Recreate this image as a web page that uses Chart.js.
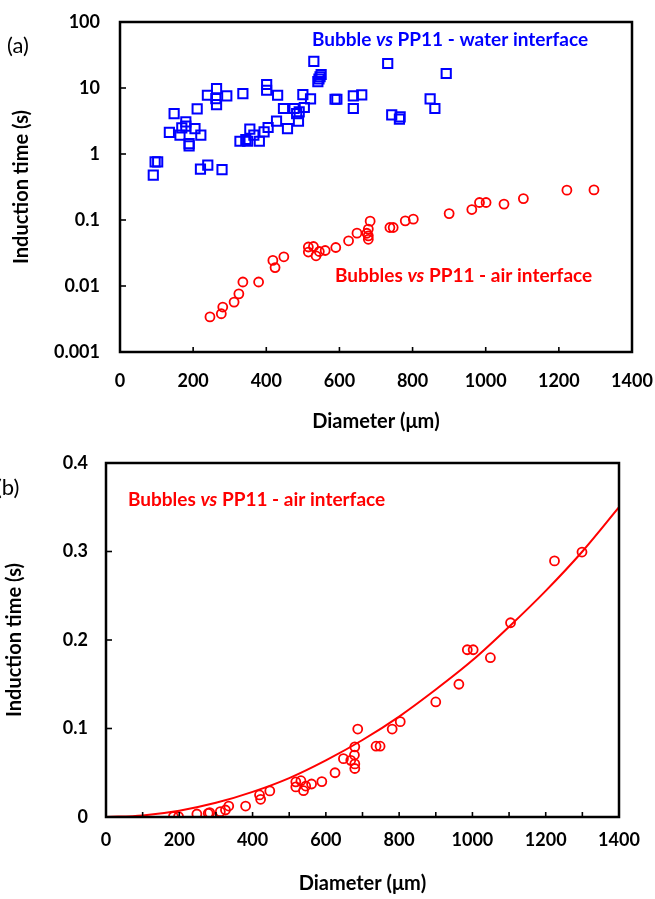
<!DOCTYPE html>
<html><head><meta charset="utf-8">
<script src="https://cdn.jsdelivr.net/npm/chart.js@4"></script>
<style>
body{margin:0;background:#fff;width:655px;height:899px;overflow:hidden;position:relative}
#c1{position:absolute;left:0;top:0}
#c2{position:absolute;left:0;top:440px}
</style></head><body>
<canvas id="c1" width="655" height="440"></canvas>
<canvas id="c2" width="655" height="459"></canvas>
<script>
// ---- data ----
const waterDiameter = [91,96,103,135,148,164,169,180,180,189,189,205,211,221,220,240,279,239,264,262,264,292,336,328,344,349,355,366,381,394,405,401,401,428,431,447,458,476,483,490,488,500,504,521,530,541,544,547,550,588,593,638,661,638,732,743,766,764,848,861,892];
const waterTime = [0.48,0.76,0.76,2.12,4.1,1.93,2.49,3.06,2.64,1.44,1.33,2.43,4.82,1.93,0.59,0.68,0.58,7.76,9.8,6.9,5.6,7.6,8.2,1.56,1.66,1.56,2.38,1.93,1.56,2.16,2.52,11.3,9.25,3.14,7.76,4.89,2.43,4.89,4.1,4.34,3.14,7.96,5.06,6.83,25.4,12.5,13.7,14.8,16.0,6.76,6.76,7.6,7.85,4.89,23.5,3.91,3.65,3.37,6.83,4.89,16.6];

const airDiameterA = [246,277,281,312,325,336,379,418,424,448,515,515,529,536,545,561,590,625,648,675,679,679,679,684,738,747,780,802,900,962,983,1001,1050,1103,1222,1296];
const airTimeA = [0.0034,0.0038,0.0048,0.0057,0.0076,0.0115,0.0115,0.0244,0.019,0.0277,0.039,0.0327,0.0397,0.0287,0.0333,0.0345,0.0383,0.0484,0.0632,0.063,0.0728,0.0575,0.051,0.096,0.077,0.077,0.097,0.103,0.125,0.144,0.184,0.184,0.174,0.211,0.283,0.286];

const airDiameterB = [184,198,248,279,283,312,326,335,381,419,422,447,518,518,532,539,545,561,589,625,648,668,678,679,679,679,687,737,748,781,803,900,963,986,1002,1049,1104,1224,1299];
const airTimeB = [0.0005,0.0005,0.0034,0.0042,0.0049,0.006,0.0079,0.0124,0.0124,0.0249,0.020,0.0295,0.0397,0.034,0.041,0.0297,0.035,0.0373,0.040,0.050,0.0659,0.064,0.070,0.0793,0.060,0.0548,0.0994,0.080,0.080,0.0994,0.1077,0.13,0.15,0.189,0.189,0.18,0.2195,0.2894,0.2994];

const fitDiameter = [0,100,200,300,400,500,600,700,800,900,1000,1100,1200,1300,1400];
const fitTime = [0,0.0018,0.0071,0.016,0.0284,0.044,0.064,0.087,0.1135,0.144,0.177,0.215,0.2555,0.30,0.350];

const xTicksA = [0,200,400,600,800,1000,1200,1400];
const yTicksA = [0.001,0.01,0.1,1,10,100];
const yLabelsA = ['0.001','0.01','0.1','1','10','100'];
const xTicksB = [0,200,400,600,800,1000,1200,1400];
const xMinorB = [0,100,200,300,400,500,600,700,800,900,1000,1100,1200,1300,1400];
const yTicksB = [0,0.1,0.2,0.3,0.4];
const yLabelsB = ['0','0.1','0.2','0.3','0.4'];

const BLUE = '#0000FF', RED = '#FF0000';
const FONT = 'Lato, "Open Sans", sans-serif';

const pts = (xs, ys) => xs.map((x, i) => ({x, y: ys[i]}));

const frame = {
  id: 'frame',
  afterDraw(chart, args, o) {
    const {ctx, chartArea: a, scales: {x, y}} = chart;
    ctx.save();
    ctx.strokeStyle = '#000';
    ctx.lineWidth = 1.6;
    o.xTicks.forEach(v => { const p = x.getPixelForValue(v); ctx.beginPath(); ctx.moveTo(p, a.bottom); ctx.lineTo(p, a.bottom - 5); ctx.stroke(); });
    o.yTicks.forEach(v => { const p = y.getPixelForValue(v); ctx.beginPath(); ctx.moveTo(a.left, p); ctx.lineTo(a.left + 6, p); ctx.stroke(); });
    ctx.lineWidth = 2.5;
    ctx.strokeRect(a.left, a.top, a.right - a.left, a.bottom - a.top);
    o.notes.forEach(n => {
      let cx = n.x;
      ctx.fillStyle = n.color;
      ctx.textBaseline = 'middle';
      n.parts.forEach(p => {
        ctx.font = p[1] + ' ' + n.size + 'px ' + FONT;
        ctx.fillText(p[0], cx, n.y);
        cx += ctx.measureText(p[0]).width;
      });
    });
    ctx.restore();
  }
};

function axisFont(sz){ return {family: FONT, size: sz, weight: 'bold'}; }
function fitX(h){ return s => { s.height = h; s.paddingLeft = 0; s.paddingRight = 0; }; }
function fitY(w){ return s => { s.width = w; s.paddingTop = 0; s.paddingBottom = 0; }; }

new Chart(document.getElementById('c1'), {
  type: 'scatter',
  data: {datasets: [
    {data: pts(waterDiameter, waterTime), pointStyle: 'rect', radius: 6.5, borderColor: BLUE, backgroundColor: 'rgba(0,0,0,0)', borderWidth: 2},
    {data: pts(airDiameterA, airTimeA), pointStyle: 'circle', radius: 4.5, borderColor: RED, backgroundColor: 'rgba(0,0,0,0)', borderWidth: 1.8}
  ]},
  options: {
    responsive: false, animation: false,
    layout: {padding: {top: 22, right: 23, left: 0, bottom: 0}},
    plugins: {legend: {display: false}, tooltip: {enabled: false},
      frame: {xTicks: xTicksA, yTicks: yTicksA, notes: [
        {x: 312, y: 40, size: 19, color: BLUE, parts: [['Bubble ', 'bold'], ['vs', 'italic bold'], [' PP11 - water interface', 'bold']]},
        {x: 335, y: 276, size: 19, color: RED, parts: [['Bubbles ', 'bold'], ['vs', 'italic bold'], [' PP11 - air interface', 'bold']]},
        {x: 7, y: 46, size: 22, color: '#000', parts: [['(a)', 'normal']]}
      ]}},
    scales: {
      x: {type: 'linear', min: 0, max: 1400,
        afterBuildTicks: s => { s.ticks = xTicksA.map(v => ({value: v})); },
        afterFit: fitX(88),
        grid: {display: false, drawTicks: false}, border: {display: false},
        ticks: {font: axisFont(18), color: '#000', padding: 18, maxRotation: 0, callback: v => String(v)},
        title: {display: true, text: 'Diameter (μm)', font: axisFont(20), color: '#000', padding: {top: 0, bottom: 6}}
      },
      y: {type: 'logarithmic', min: 0.001, max: 100,
        afterBuildTicks: s => { s.ticks = yTicksA.map(v => ({value: v})); },
        afterFit: fitY(120),
        grid: {display: false, drawTicks: false}, border: {display: false},
        ticks: {font: axisFont(18), color: '#000', padding: 20, callback: (v) => yLabelsA[yTicksA.indexOf(v)] ?? ''},
        title: {display: true, text: 'Induction time (s)', font: axisFont(20), color: '#000', padding: {top: 10, bottom: 0}}
      }
    }
  },
  plugins: [frame]
});

new Chart(document.getElementById('c2'), {
  type: 'scatter',
  data: {datasets: [
    {type: 'line', data: pts(fitDiameter, fitTime), borderColor: RED, borderWidth: 2, pointRadius: 0, fill: false, cubicInterpolationMode: 'monotone'},
    {data: pts(airDiameterB, airTimeB), pointStyle: 'circle', radius: 4.5, borderColor: RED, backgroundColor: 'rgba(0,0,0,0)', borderWidth: 1.8}
  ]},
  options: {
    responsive: false, animation: false,
    layout: {padding: {top: 23, right: 36, left: 0, bottom: 0}},
    plugins: {legend: {display: false}, tooltip: {enabled: false},
      frame: {xTicks: xMinorB, yTicks: yTicksB, notes: [
        {x: 128, y: 60, size: 19, color: RED, parts: [['Bubbles ', 'bold'], ['vs', 'italic bold'], [' PP11 - air interface', 'bold']]},
        {x: -4, y: 48, size: 22, color: '#000', parts: [['(b)', 'normal']]}
      ]}},
    scales: {
      x: {type: 'linear', min: 0, max: 1400,
        afterBuildTicks: s => { s.ticks = xTicksB.map(v => ({value: v})); },
        afterFit: fitX(82),
        grid: {display: false, drawTicks: false}, border: {display: false},
        ticks: {font: axisFont(18), color: '#000', padding: 12, maxRotation: 0, callback: v => String(v)},
        title: {display: true, text: 'Diameter (μm)', font: axisFont(20), color: '#000', padding: {top: 0, bottom: 3}}
      },
      y: {type: 'linear', min: 0, max: 0.4,
        afterBuildTicks: s => { s.ticks = yTicksB.map(v => ({value: v})); },
        afterFit: fitY(106),
        grid: {display: false, drawTicks: false}, border: {display: false},
        ticks: {font: axisFont(18), color: '#000', padding: 18, callback: (v) => yLabelsB[yTicksB.indexOf(v)] ?? ''},
        title: {display: true, text: 'Induction time (s)', font: axisFont(20), color: '#000', padding: {top: 3, bottom: 0}}
      }
    }
  },
  plugins: [frame]
});
</script>
</body></html>
